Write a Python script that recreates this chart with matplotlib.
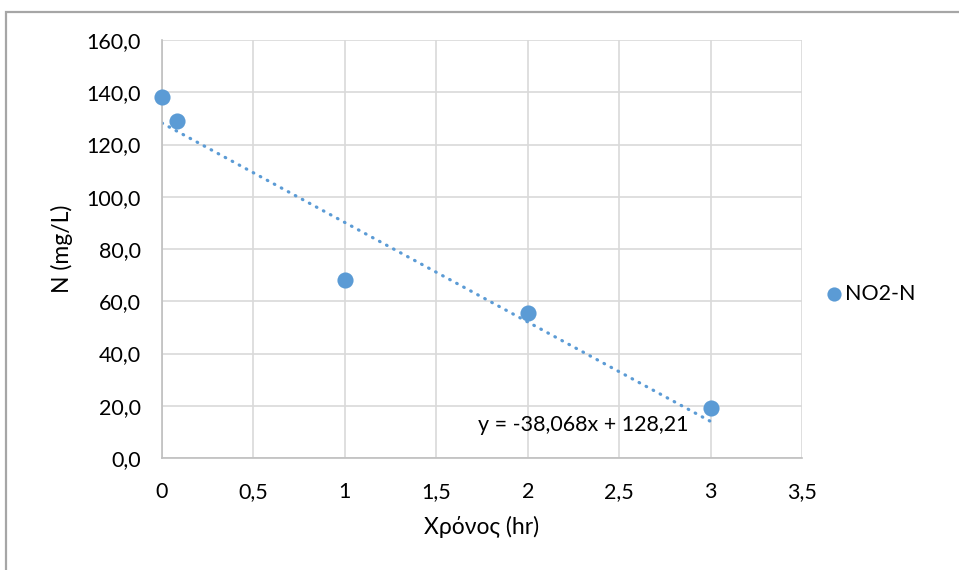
import matplotlib
matplotlib.use("Agg")
import matplotlib.pyplot as plt
from matplotlib.patches import Rectangle

# Measured nitrite nitrogen over time
time_hr = [0.0, 0.0833, 1.0, 2.0, 3.0]
no2_n = [138.2, 129.0, 68.0, 55.5, 19.0]
series_name = "NO2-N"

# Linear trendline coefficients
slope = -38.068
intercept = 128.21

x_ticks = [0, 0.5, 1, 1.5, 2, 2.5, 3, 3.5]
x_tick_labels = ["0", "0,5", "1", "1,5", "2", "2,5", "3", "3,5"]
y_ticks = [0, 20, 40, 60, 80, 100, 120, 140, 160]
y_tick_labels = ["0,0", "20,0", "40,0", "60,0", "80,0", "100,0", "120,0", "140,0", "160,0"]

blue = "#5B9BD5"
grid_c = "#d9d9d9"
font = ["Lato", "DejaVu Sans"]
plt.rcParams["font.family"] = font

W, H = 959, 570
fig = plt.figure(figsize=(W / 100, H / 100), dpi=100)
ax = fig.add_axes([162 / W, 1 - 458 / H, (802 - 162) / W, (458 - 40) / H])

# Chart frame
fig.patches.append(Rectangle((6 / W, -0.05), 1.1, 1 - 12 / H + 0.05,
                             transform=fig.transFigure, fill=False,
                             edgecolor="#a6a6a6", linewidth=1.6, clip_on=False))

ax.set_xlim(0, 3.5)
ax.set_ylim(0, 160)
ax.set_xticks(x_ticks)
ax.set_xticklabels(x_tick_labels)
ax.set_yticks(y_ticks)
ax.set_yticklabels(y_tick_labels)
ax.tick_params(length=0, labelsize=15.5, colors="#000000")
ax.tick_params(axis="y", pad=15)
ax.tick_params(axis="x", pad=17)
ax.grid(True, color=grid_c, linewidth=1.2)
ax.set_axisbelow(True)
for s in ["top", "right"]:
    ax.spines[s].set_visible(False)
for s in ["left", "bottom"]:
    ax.spines[s].set_color("#bfbfbf")
    ax.spines[s].set_linewidth(1.2)

# Trendline
tx = [time_hr[0], time_hr[-1]]
ty = [slope * v + intercept for v in tx]
ax.plot(tx, ty, color=blue, linewidth=2.3, linestyle=(0, (0.2, 2.3)),
        dash_capstyle="round", zorder=2)

ax.scatter(time_hr, no2_n, s=135, color=blue, zorder=3, clip_on=False,
           label=series_name, linewidths=0)

eq = f"y = {slope:.3f}x + {intercept:.2f}".replace(".", ",")
ax.text(1.73, 12.6, eq, fontsize=15.5, va="center", ha="left")

ax.set_xlabel("Χρόνος (hr)", fontsize=16.5, labelpad=10)
ax.set_ylabel("N (mg/L)", fontsize=16.5, labelpad=10)

ax.legend(loc="center left", bbox_to_anchor=(1.036, 0.392), frameon=False,
          fontsize=15.5, handletextpad=0.15, handlelength=0.8, markerscale=0.88,
          borderaxespad=0, borderpad=0)

fig.savefig("out.png", dpi=100, facecolor="white")
